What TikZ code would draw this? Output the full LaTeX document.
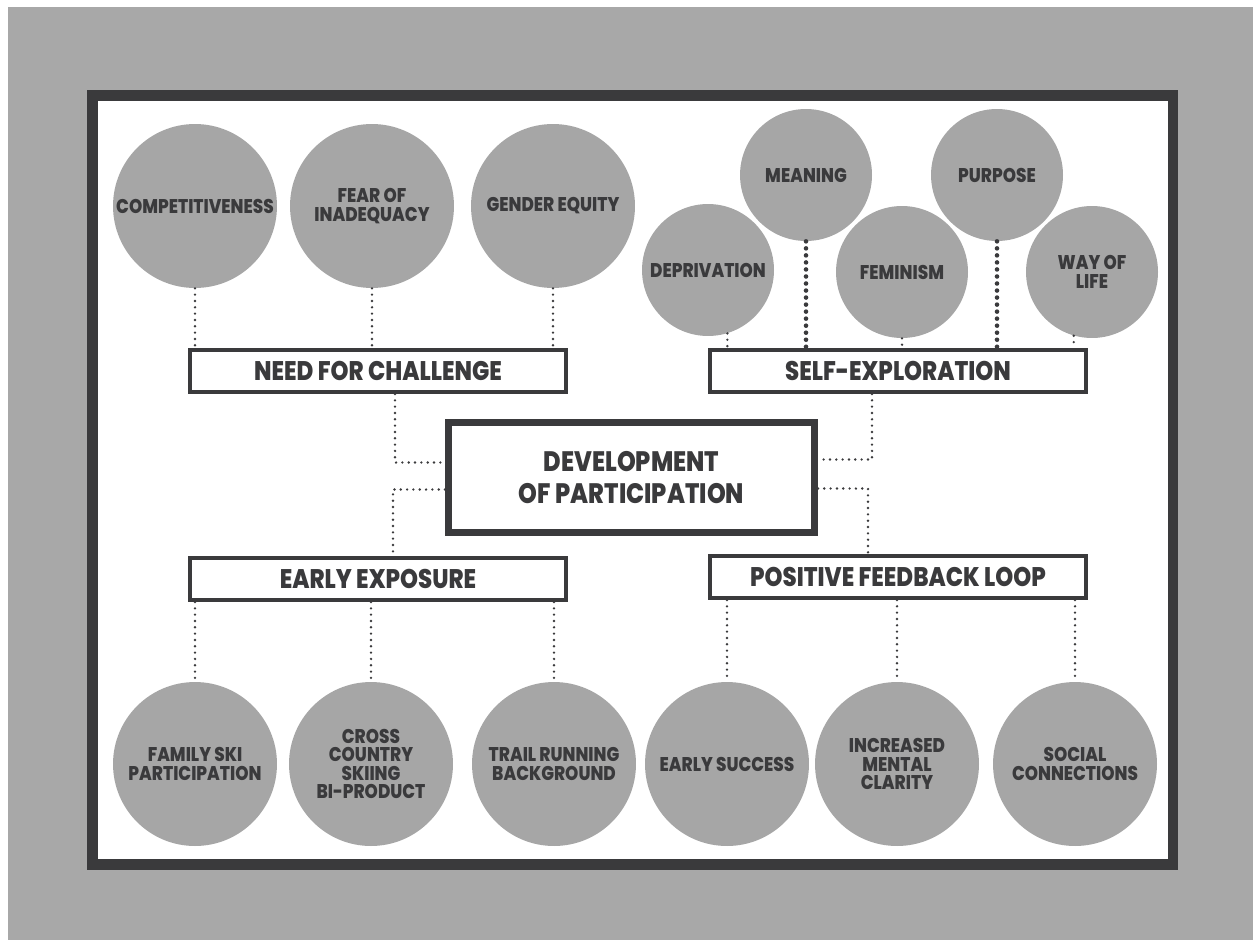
\documentclass[tikz,border=0pt]{standalone}
\usepackage{fontspec}
\setmainfont{Poppins}[FakeStretch=0.85, BoldFont={Poppins ExtraBold}]
\usepackage{xcolor}
\usetikzlibrary{positioning,calc}
\definecolor{bggray}{HTML}{A8A8A8}
\definecolor{ballgray}{HTML}{A6A6A6}
\definecolor{ink}{HTML}{3A3A3C}

\begin{document}
\begin{tikzpicture}[x=0.02cm, y=-0.02cm,
    bigball/.style={circle, fill=ballgray, minimum size=3.28cm, inner sep=0pt, align=center, text=ink, font=\fontsize{11.3}{10.5}\selectfont\bfseries},
    smallball/.style={bigball, minimum size=2.64cm},
    catbox/.style={draw=ink, line width=0.08cm, fill=white, minimum width=7.52cm, minimum height=0.84cm, inner sep=0pt, text=ink, font=\fontsize{15.3}{17}\selectfont\bfseries},
    corebox/.style={draw=ink, line width=0.14cm, fill=white, minimum width=7.32cm, minimum height=2.2cm, align=center, text=ink, font=\fontsize{16}{18.2}\selectfont\bfseries},
    dotline/.style={ink, line width=1.5pt, line cap=round, dash pattern=on 0pt off 3.6pt},
    bigdots/.style={ink, line width=2.6pt, line cap=round, dash pattern=on 0pt off 4pt}]
    \useasboundingbox (0,0) rectangle (1253,940);
    \fill[white] (0,0) rectangle (1253,940);
    \fill[bggray] (8,7) rectangle (1253,940);
    \draw[ink, line width=0.21cm, fill=white] (92.5,95.5) rectangle (1173,864.5); % frame

    % need for challenge
    \node[bigball] (compet) at (195,206) {COMPETITIVENESS};
    \node[bigball] (fear) at (372,206) {FEAR OF\\INADEQUACY};
    \node[bigball] (gender) at (553,206) {GENDER EQUITY};
    \node[catbox] (need) at (378,371) {NEED FOR CHALLENGE};
    \foreach \c in {compet,fear,gender}
        \draw[dotline] (\c.south) -- (\c.south |- need.north);

    % self-exploration
    \node[smallball] (depriv) at (708,270) {DEPRIVATION};
    \node[smallball] (meaning) at (806,175) {MEANING};
    \node[smallball] (femin) at (902,272) {FEMINISM};
    \node[smallball] (purpose) at (997,175) {PURPOSE};
    \node[smallball] (wayoflife) at (1092,272) {WAY OF\\LIFE};
    \node[catbox] (selfexp) at (898,371) {SELF-EXPLORATION};
    \draw[dotline] (depriv.-73) -- (depriv.-73 |- selfexp.north);
    \draw[dotline] (femin.south) -- (femin.south |- selfexp.north);
    \draw[dotline] (wayoflife.-106) -- (wayoflife.-106 |- selfexp.north);
    \draw[bigdots] (meaning.south) -- (meaning.south |- selfexp.north);
    \draw[bigdots] (purpose.south) -- (purpose.south |- selfexp.north);

    % centre
    \node[corebox] (core) at (631.5,477.5) {DEVELOPMENT\\OF PARTICIPATION};

    % early exposure
    \node[catbox] (early) at (378,579) {EARLY EXPOSURE};
    \node[bigball] (family) at (195,764) {FAMILY SKI\\PARTICIPATION};
    \node[bigball] (cross) at (371,764) {CROSS\\COUNTRY\\SKIING\\BI-PRODUCT};
    \node[bigball] (trail) at (554,764) {TRAIL RUNNING\\BACKGROUND};
    \foreach \c in {family,cross,trail}
        \draw[dotline] (\c.north |- early.south) -- (\c.north);

    % positive feedback loop
    \node[catbox] (posloop) at (898,577) {POSITIVE FEEDBACK LOOP};
    \node[bigball] (success) at (727,764) {EARLY SUCCESS};
    \node[bigball] (clarity) at (897,764) {INCREASED\\MENTAL\\CLARITY};
    \node[bigball] (social) at (1075,764) {SOCIAL\\CONNECTIONS};
    \foreach \c in {success,clarity,social}
        \draw[dotline] (\c.north |- posloop.south) -- (\c.north);

    % links to the centre
    \draw[dotline] ($(need.south)+(17,0)$) |- ($(core.west)+(0,-15)$);
    \draw[dotline] ($(core.west)+(0,12)$) -| ($(early.north)+(15,0)$);
    \draw[dotline] ($(selfexp.south)+(-26,0)$) |- ($(core.east)+(0,-18)$);
    \draw[dotline] ($(core.east)+(0,11)$) -| ($(posloop.north)+(-30,0)$);
\end{tikzpicture}
\end{document}
